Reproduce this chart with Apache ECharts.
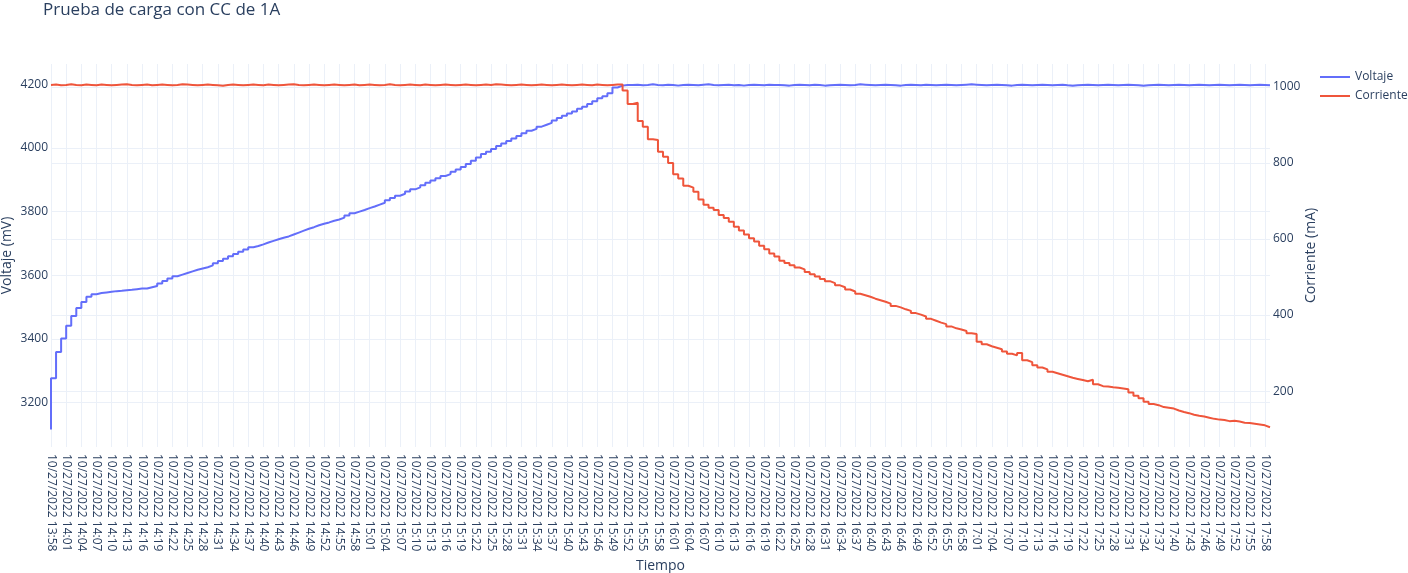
<!DOCTYPE html>
<html>
<head>
<meta charset="utf-8">
<script src="https://cdn.jsdelivr.net/npm/echarts@6/dist/echarts.min.js"></script>
<style>
html,body{margin:0;padding:0;background:#fff;}
#chart{width:1408px;height:573px;}
</style>
</head>
<body>
<div id="chart"></div>
<script>
// Time categories: one per minute from 13:58 to 17:59
const datePrefix = '10/27/2022 ';
const startHour = 13, startMinute = 58, minuteCount = 242;
const categories = [];
for (let i = 0; i < minuteCount; i++) {
  const t = startHour * 60 + startMinute + i;
  const h = Math.floor(t / 60), m = t % 60;
  categories.push(datePrefix + h + ':' + (m < 10 ? '0' + m : m));
}

// Voltaje (mV)
const voltaje = [
  3115,3276,3359,3401,3441,3472,3497,3516,3532,3540,
  3544,3546,3548,3550,3551,3553,3554,3556,3558,3558,
  3562,3566,3574,3582,3590,3597,3602,3607,3612,3617,
  3621,3625,3631,3638,3645,3652,3660,3667,3674,3681,
  3688,3692,3697,3703,3708,3713,3718,3722,3728,3734,
  3740,3746,3751,3757,3762,3766,3771,3775,3781,3788,
  3795,3800,3805,3811,3816,3822,3828,3836,3843,3850,
  3856,3863,3870,3876,3883,3891,3898,3905,3912,3918,
  3925,3932,3940,3950,3960,3970,3981,3988,3997,4006,
  4014,4022,4030,4038,4046,4054,4060,4067,4073,4079,
  4086,4094,4101,4108,4115,4123,4130,4138,4147,4156,
  4163,4172,4190,4196,4198,
  4198,4199,4197,4198,4200,4198,4197,4199,4198,4196,
  4198,4199,4198,4197,4199,4200,4198,4197,4198,4199,
  4197,4198,4196,4198,4199,4198,4197,4199,4198,4198,
  4197,4196,4198,4199,4198,4197,4199,4198,4196,4197,
  4198,4199,4198,4197,4198,4200,4199,4198,4197,4198,
  4199,4198,4197,4196,4198,4199,4198,4197,4199,4198,
  4197,4198,4199,4198,4197,4198,4199,4200,4199,4198,
  4197,4198,4199,4198,4197,4196,4198,4199,4198,4197,
  4198,4199,4198,4197,4198,4199,4197,4196,4197,4198,
  4199,4198,4197,4198,4199,4198,4197,4198,4199,4198,
  4197,4196,4197,4198,4199,4198,4197,4198,4199,4198,
  4197,4198,4199,4198,4197,4198,4199,4198,4197,4198,
  4199,4198,4197,4198,4199,4198,4197
];

// Corriente (mA)
const corriente = [
  1005,1006,1004,1005,1007,1005,1004,1006,1005,1004,
  1006,1005,1004,1005,1006,1007,1005,1004,1005,1006,
  1004,1005,1006,1005,1004,1005,1007,1006,1005,1004,
  1005,1006,1005,1004,1003,1005,1006,1005,1004,1005,
  1006,1005,1004,1006,1005,1004,1005,1006,1007,1005,
  1004,1005,1006,1005,1004,1005,1006,1005,1004,1005,
  1006,1004,1005,1006,1005,1004,1005,1007,1005,1004,
  1005,1006,1005,1004,1006,1005,1004,1005,1006,1005,
  1004,1005,1006,1005,1004,1005,1006,1005,1007,1006,
  1005,1004,1005,1006,1005,1004,1005,1006,1005,1004,
  1005,1006,1005,1004,1005,1006,1005,1004,1006,1005,
  1004,1005,1006,1006,
  990,955,958,910,895,862,860,829,816,800,
  770,759,740,735,724,704,690,682,676,663,
  655,645,632,622,612,602,593,582,573,562,
  554,543,537,531,525,520,513,507,501,495,
  489,484,478,473,467,462,456,452,448,443,
  439,435,430,424,420,415,411,405,401,396,
  390,385,380,376,370,365,362,358,352,350,
  330,323,318,314,310,304,298,294,300,281,
  276,268,262,257,251,247,243,239,235,232,
  229,226,230,218,213,212,210,209,207,205,
  196,188,181,172,166,163,158,156,154,149,
  145,142,138,135,133,130,127,125,124,121,
  122,120,117,116,114,112,110,105
];

const seriesNames = ['Voltaje', 'Corriente'];
const titleText = 'Prueba de carga con CC de 1A';
const xTitle = 'Tiempo';
const yLeftTitle = 'Voltaje (mV)';
const yRightTitle = 'Corriente (mA)';

const textColor = '#2a3f5f';
const gridColor = '#ebf0f8';
const plainNumber = function (v) { return String(v); };

const chart = echarts.init(document.getElementById('chart'), null, {renderer: 'canvas'});
chart.setOption({
  animation: false,
  backgroundColor: '#ffffff',
  textStyle: {fontFamily: 'Open Sans', color: textColor},
  title: {
    text: titleText, left: 43, top: 2, padding: 0,
    textStyle: {fontFamily: 'Open Sans', fontSize: 17, fontWeight: 'normal', color: textColor}
  },
  legend: {
    orient: 'vertical', left: 1320, top: 70, itemWidth: 30, itemHeight: 2, itemGap: 5,
    padding: 0, icon: 'rect',
    data: seriesNames,
    textStyle: {fontFamily: 'Open Sans', fontSize: 12, color: textColor, lineHeight: 14, padding: [0, 0, 0, 0]}
  },
  grid: {left: 51, right: 138, top: 64, bottom: 126, containLabel: false, outerBoundsMode: 'none'},
  xAxis: {
    type: 'category', data: categories, boundaryGap: false,
    name: xTitle, nameLocation: 'middle', nameGap: 112, nameMoveOverlap: false,
    nameTextStyle: {fontFamily: 'Open Sans', fontSize: 14, color: textColor},
    axisLine: {show: false}, axisTick: {show: false},
    axisLabel: {interval: 2, rotate: -90, margin: 7, fontSize: 12, color: textColor, fontFamily: 'Open Sans'},
    splitLine: {show: true, interval: 2, lineStyle: {color: gridColor, width: 1}}
  },
  yAxis: [
    {
      type: 'value', position: 'left', min: 3060, max: 4264,
      name: yLeftTitle, nameLocation: 'middle', nameGap: 37, nameMoveOverlap: false,
      nameTextStyle: {fontFamily: 'Open Sans', fontSize: 14, color: textColor},
      axisLine: {show: false}, axisTick: {show: false},
      axisLabel: {margin: 3, fontSize: 12, color: textColor, showMinLabel: false, showMaxLabel: false, formatter: plainNumber},
      splitLine: {show: true, showMinLine: false, showMaxLine: false, lineStyle: {color: gridColor, width: 1}}
    },
    {
      type: 'value', position: 'right', min: 53, max: 1060,
      name: yRightTitle, nameLocation: 'middle', nameGap: 34, nameMoveOverlap: false,
      nameTextStyle: {fontFamily: 'Open Sans', fontSize: 14, color: textColor},
      axisLine: {show: false}, axisTick: {show: false},
      axisLabel: {margin: 3, fontSize: 12, color: textColor, showMinLabel: false, showMaxLabel: false, formatter: plainNumber},
      splitLine: {show: true, showMinLine: false, showMaxLine: false, lineStyle: {color: gridColor, width: 1}}
    }
  ],
  series: [
    {
      name: seriesNames[0], type: 'line', yAxisIndex: 0, data: voltaje, step: 'start',
      symbol: 'none', showSymbol: false,
      lineStyle: {width: 2, color: '#636efa'}, itemStyle: {color: '#636efa'}
    },
    {
      name: seriesNames[1], type: 'line', yAxisIndex: 1, data: corriente, step: 'start',
      symbol: 'none', showSymbol: false,
      lineStyle: {width: 2, color: '#ef553b'}, itemStyle: {color: '#ef553b'}
    }
  ]
});
</script>
</body>
</html>
